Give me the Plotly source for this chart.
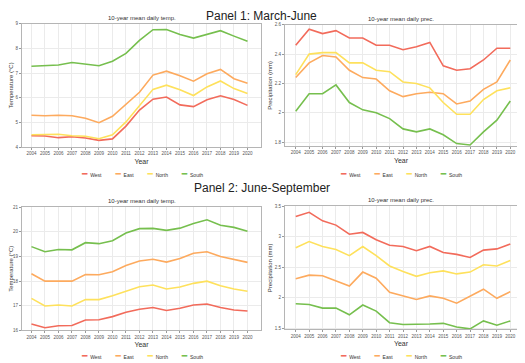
import plotly.graph_objects as go

# --- data ---
years = list(range(2004, 2021))
regions = ["West", "East", "North", "South"]
colors = {"West": "#F26B5B", "East": "#FDAA5E", "North": "#FEE15C", "South": "#76BF4E"}

# Panel 1: March-June
temp_mj = {
    "West":  [4.46, 4.45, 4.38, 4.42, 4.37, 4.27, 4.33, 4.85, 5.50, 5.94, 6.03, 5.71, 5.64, 5.92, 6.08, 5.93, 5.69],
    "East":  [5.29, 5.27, 5.29, 5.27, 5.17, 4.99, 5.25, 5.72, 6.22, 6.92, 7.08, 6.89, 6.67, 6.97, 7.15, 6.77, 6.59],
    "North": [4.50, 4.52, 4.52, 4.46, 4.44, 4.34, 4.50, 5.02, 5.70, 6.34, 6.51, 6.32, 6.09, 6.44, 6.68, 6.37, 6.17],
    "South": [7.28, 7.31, 7.33, 7.43, 7.36, 7.30, 7.48, 7.80, 8.33, 8.76, 8.77, 8.57, 8.42, 8.57, 8.72, 8.50, 8.29],
}
prec_mj = {
    "West":  [2.46, 2.57, 2.54, 2.56, 2.51, 2.51, 2.46, 2.46, 2.43, 2.45, 2.48, 2.32, 2.29, 2.30, 2.36, 2.44, 2.44],
    "East":  [2.24, 2.34, 2.39, 2.38, 2.29, 2.24, 2.23, 2.15, 2.11, 2.13, 2.14, 2.13, 2.06, 2.08, 2.16, 2.21, 2.36],
    "North": [2.26, 2.40, 2.41, 2.41, 2.34, 2.34, 2.29, 2.28, 2.21, 2.20, 2.17, 2.07, 1.99, 1.99, 2.09, 2.15, 2.17],
    "South": [2.01, 2.13, 2.13, 2.19, 2.07, 2.02, 2.00, 1.96, 1.89, 1.87, 1.89, 1.85, 1.79, 1.78, 1.87, 1.95, 2.08],
}

# Panel 2: June-September
temp_js = {
    "West":  [16.26, 16.11, 16.19, 16.20, 16.42, 16.43, 16.56, 16.74, 16.86, 16.93, 16.81, 16.90, 17.03, 17.07, 16.93, 16.83, 16.79],
    "East":  [18.30, 18.00, 18.00, 18.00, 18.27, 18.26, 18.38, 18.63, 18.82, 18.89, 18.77, 18.92, 19.13, 19.19, 19.00, 18.89, 18.76],
    "North": [17.30, 16.99, 17.03, 16.99, 17.25, 17.25, 17.41, 17.60, 17.77, 17.84, 17.68, 17.76, 17.91, 18.00, 17.81, 17.68, 17.59],
    "South": [19.40, 19.19, 19.28, 19.27, 19.56, 19.52, 19.64, 19.95, 20.13, 20.14, 20.06, 20.15, 20.34, 20.49, 20.27, 20.18, 20.02],
}
prec_js = {
    "West":  [3.33, 3.40, 3.26, 3.19, 3.04, 3.07, 2.95, 2.86, 2.84, 2.77, 2.84, 2.74, 2.71, 2.66, 2.78, 2.80, 2.88],
    "East":  [2.31, 2.37, 2.36, 2.28, 2.19, 2.42, 2.32, 2.09, 2.03, 1.97, 2.03, 1.99, 1.91, 2.03, 2.14, 1.99, 2.10],
    "North": [2.82, 2.92, 2.84, 2.79, 2.69, 2.84, 2.69, 2.52, 2.43, 2.35, 2.41, 2.44, 2.39, 2.42, 2.54, 2.52, 2.61],
    "South": [1.90, 1.89, 1.83, 1.83, 1.72, 1.88, 1.78, 1.59, 1.56, 1.56, 1.57, 1.58, 1.52, 1.49, 1.62, 1.55, 1.62],
}

# the page body has an 8px margin, so the figure is shrunk by that much
# and layout positions are given in window pixels, then converted
OFF = 8
W, H = 525 - OFF, 363 - OFF
FONT = "Liberation Sans"
GRID = "#EBEBEB"
FRAME = "#B5B5B5"


def px(x):
    return (x - OFF) / W


def py(y):
    return 1 - (y - OFF) / H


# (data, x-pixel span, y-pixel span, y range, y ticks, y title, subplot title)
panels = [
    (temp_mj, (22, 261), (22, 147), [4, 9], [4, 5, 6, 7, 8, 9], "Temperature (°C)", "10-year mean daily temp."),
    (prec_mj, (285, 517), (23, 146), [1.773, 2.6], [1.8, 2.0, 2.2, 2.4, 2.6], "Precipitation (mm)", "10-year mean daily prec."),
    (temp_js, (22, 261), (208, 333), [16, 21], [16, 17, 18, 19, 20, 21], "Temperature (°C)", "10-year mean daily temp."),
    (prec_js, (285, 517), (207, 332), [1.48, 3.5], [1.5, 2.0, 2.5, 3.0, 3.5], "Precipitation (mm)", "10-year mean daily prec."),
]
xranges = [[2003.3, 2021.0], [2003.2, 2020.5], [2003.3, 2021.0], [2003.2, 2020.5]]
legend_y = [174, 174, 359, 359]

# legend as coloured key glyphs + region names, one line per panel
legend_text = "&nbsp;&nbsp;&nbsp;&nbsp;&nbsp;&nbsp;&nbsp;&nbsp;&nbsp;&nbsp;".join(
    f"<span style='font-family:DejaVu Sans;font-size:9px;color:{colors[r]}'>━</span>&nbsp;&nbsp;{r}"
    for r in regions)

fig = go.Figure()
layout = {}
annotations = []

for i, (data, (x0, x1), (y0, y1), yr, yt, ytitle, stitle) in enumerate(panels):
    n = "" if i == 0 else str(i + 1)
    for r in regions:
        fig.add_trace(go.Scatter(
            x=years, y=data[r], mode="lines", name=r,
            line=dict(color=colors[r], width=1.6),
            xaxis="x" + n, yaxis="y" + n, showlegend=False))

    layout["xaxis" + n] = dict(
        domain=[px(x0), px(x1)], anchor="y" + n, range=xranges[i],
        tickmode="array", tickvals=years, ticktext=[str(y) for y in years], tickangle=0,
        tickfont=dict(size=4.5, color="#555555"), ticks="outside", ticklen=2, tickcolor="#999999",
        showgrid=True, gridcolor=GRID, gridwidth=0.6, zeroline=False,
        showline=True, linecolor=FRAME, linewidth=1, mirror=True,
        title=dict(text="Year", font=dict(size=7, color="#333333"), standoff=3))
    layout["yaxis" + n] = dict(
        domain=[py(y1), py(y0)], anchor="x" + n, range=yr,
        tickmode="array", tickvals=yt,
        tickfont=dict(size=4.5, color="#555555"), ticks="outside", ticklen=2, tickcolor="#999999",
        showgrid=True, gridcolor=GRID, gridwidth=0.6, zeroline=False,
        showline=True, linecolor=FRAME, linewidth=1, mirror=True,
        title=dict(text=ytitle, font=dict(size=6, color="#333333"), standoff=1))
    annotations.append(dict(
        text=stitle, x=px((x0 + x1) / 2), y=py(y0 - 6), xref="paper", yref="paper",
        showarrow=False, font=dict(size=6, color="#333333"), xanchor="center", yanchor="middle"))
    annotations.append(dict(
        text=legend_text, x=px((x0 + x1) / 2), y=py(legend_y[i]), xref="paper", yref="paper",
        showarrow=False, font=dict(size=5, color="#333333"), xanchor="center", yanchor="middle"))

# panel headings (the first one sits as high as the page allows)
annotations.append(dict(text="Panel 1: March-June", x=px(262), y=py(6.5), xref="paper", yref="paper",
                        showarrow=False, font=dict(size=12, color="#222222"),
                        yanchor="top", borderpad=0, borderwidth=0))
annotations.append(dict(text="Panel 2: June-September", x=px(262), y=py(189), xref="paper", yref="paper",
                        showarrow=False, font=dict(size=12, color="#222222"), yanchor="middle"))

fig.update_layout(
    width=W, height=H,
    margin=dict(l=0, r=0, t=0, b=0),
    paper_bgcolor="white", plot_bgcolor="white",
    font=dict(family=FONT),
    showlegend=False,
    annotations=annotations,
    **layout)

fig.write_html("out.html")
